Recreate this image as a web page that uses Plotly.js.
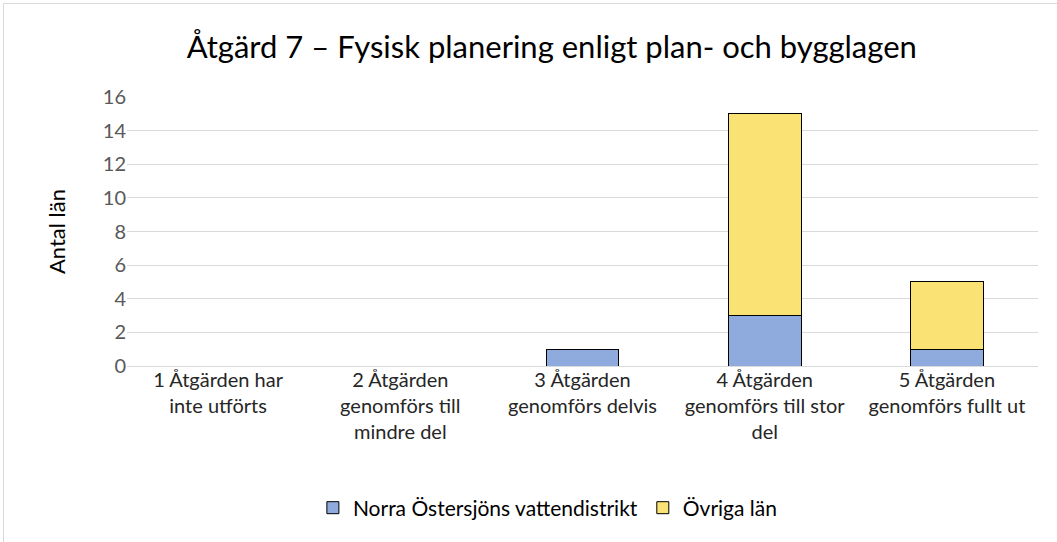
<!DOCTYPE html>
<html><head><meta charset="utf-8">
<script src="https://cdn.plot.ly/plotly-3.0.1.min.js"></script>
<style>
html,body{margin:0;padding:0;overflow:hidden;background:#fff;}
#frame{position:absolute;left:3px;top:3px;width:1060px;height:545px;border:1px solid #d9d9d9;box-sizing:border-box;}
#chart{position:absolute;left:0;top:0;width:1057px;height:542px;}
</style>
</head><body>
<div id="frame"></div>
<div id="chart"></div>
<script>
const categories = [
  "1 Åtgärden har<br>inte utförts",
  "2 Åtgärden<br>genomförs till<br>mindre del",
  "3 Åtgärden<br>genomförs delvis",
  "4 Åtgärden<br>genomförs till stor<br>del",
  "5 Åtgärden<br>genomförs fullt ut"
];
const norraValues = [0, 0, 1, 3, 1];
const ovrigaValues = [0, 0, 0, 12, 4];
const yTicks = [0, 2, 4, 6, 8, 10, 12, 14, 16];

const font = "Lato, 'Open Sans', sans-serif";
const traces = [
  {type:'bar', name:'Norra Östersjöns vattendistrikt', x:categories, y:norraValues,
   marker:{color:'#8FAADC', line:{color:'#000000', width:1}}},
  {type:'bar', name:'Övriga län', x:categories, y:ovrigaValues,
   marker:{color:'#FAE274', line:{color:'#000000', width:1}}}
];
const layout = {
  width:1057, height:542,
  paper_bgcolor:'rgba(0,0,0,0)', plot_bgcolor:'rgba(0,0,0,0)',
  barmode:'stack', bargap:0.6,
  margin:{l:127, r:19, t:97, b:176},
  font:{family:font, color:'#595959', size:20},
  title:{text:'Åtgärd 7 – Fysisk planering enligt plan- och bygglagen',
    font:{family:font, size:31, color:'#000000'}, x:0.522, xanchor:'center', y:0.913, yanchor:'middle'},
  xaxis:{type:'category', showgrid:false, zeroline:false, showline:false, ticks:'',
    tickfont:{family:font, size:20, color:'#262626'}, fixedrange:true},
  yaxis:{range:[0,16], tickvals:yTicks, ticktext:yTicks.map(String), showgrid:true, gridcolor:'#d9d9d9', gridwidth:1,
    zeroline:true, zerolinecolor:'#d9d9d9', showline:false, ticks:'', ticklen:0,
    tickfont:{family:font, size:20, color:'#595959'},
    title:{text:'Antal län', font:{family:font, size:22, color:'#000000'}, standoff:31}},
  legend:{orientation:'h', x:0.462, xanchor:'center', y:-0.528, yanchor:'middle',
    font:{family:font, size:21, color:'#000000'}, traceorder:'normal', itemwidth:30},
  showlegend:true
};
Plotly.newPlot('chart', traces, layout, {displayModeBar:false, staticPlot:true});
</script>
</body></html>
